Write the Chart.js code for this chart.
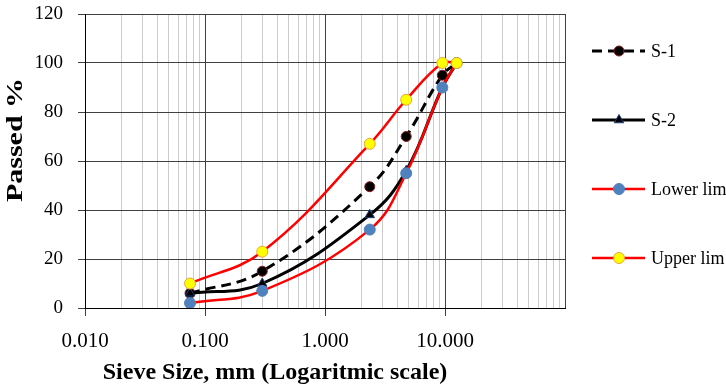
<!DOCTYPE html>
<html>
<head>
<meta charset="utf-8">
<script src="https://cdn.jsdelivr.net/npm/chart.js@4.4.1/dist/chart.umd.min.js"></script>
<style>
  html, body { margin: 0; padding: 0; background: #fff; }
</style>
</head>
<body>
<canvas id="sieve-chart" width="726" height="388"></canvas>
<script>
// sieve sizes (mm) and % passing
const sieveSizes = [0.075, 0.3, 2.36, 4.75, 9.5, 12.5];
const s1 = [6, 15, 49.5, 70, 95, 100];
const s2 = [6, 10, 38, 56, 90, 100];
const lowerLim = [2, 7, 32, 55, 90, 100];
const upperLim = [10, 23, 67, 85, 100, 100];
const seriesNames = ['S-1', 'S-2', 'Lower lim', 'Upper lim'];
const xTickLabels = ['0.010', '0.100', '1.000', '10.000'];
const yTickStep = 20;

const serif = "'Liberation Serif', 'Times New Roman', serif";

function points(values) {
  return sieveSizes.map((x, i) => ({ x: x, y: values[i] }));
}

function isDecade(v) {
  const l = Math.log10(v);
  return Math.abs(l - Math.round(l)) < 1e-9;
}

// titles + legend drawn by hand, Excel style
const extras = {
  id: 'extras',
  afterDraw(chart) {
    const ctx = chart.ctx;
    ctx.save();
    ctx.fillStyle = '#000';
    ctx.textAlign = 'center';
    ctx.textBaseline = 'middle';
    ctx.font = 'bold 24px ' + serif;
    ctx.fillText('Sieve Size, mm (Logaritmic scale)', 275, 373);

    ctx.save();
    ctx.translate(16, 140);
    ctx.rotate(-Math.PI / 2);
    ctx.scale(1.25, 1);
    ctx.fillText('Passed %', 0, 0);
    ctx.restore();

    ctx.font = '18px ' + serif;
    ctx.textAlign = 'left';
    chart.data.datasets.forEach((ds, i) => {
      const y = 51 + i * 69;
      ctx.save();
      ctx.strokeStyle = ds.borderColor;
      ctx.lineWidth = ds.borderWidth;
      ctx.setLineDash(ds.borderDash || []);
      ctx.beginPath();
      ctx.moveTo(592, y);
      ctx.lineTo(645, y);
      ctx.stroke();
      ctx.setLineDash([]);
      ctx.fillStyle = ds.pointBackgroundColor;
      ctx.strokeStyle = ds.pointBorderColor;
      ctx.lineWidth = ds.pointBorderWidth;
      Chart.helpers.drawPoint(ctx, {
        pointStyle: ds.pointStyle,
        radius: ds.pointRadius,
        borderWidth: ds.pointBorderWidth
      }, 619, y);
      ctx.restore();
      ctx.fillStyle = '#000';
      ctx.fillText(ds.label, 651, y + 1);
    });
    ctx.restore();
  }
};

const ctx = document.getElementById('sieve-chart').getContext('2d');

new Chart(ctx, {
  type: 'scatter',
  data: {
    datasets: [
      {
        label: seriesNames[0],
        data: points(s1),
        showLine: true,
        tension: 0.4,
        borderColor: '#000000',
        borderWidth: 3,
        borderDash: [10, 6],
        pointStyle: 'circle',
        pointRadius: 5,
        pointBackgroundColor: '#000000',
        pointBorderColor: '#8b1a1a',
        pointBorderWidth: 1,
        order: 4
      },
      {
        label: seriesNames[1],
        data: points(s2),
        showLine: true,
        tension: 0.4,
        borderColor: '#000000',
        borderWidth: 3,
        pointStyle: 'triangle',
        pointRadius: 5.5,
        pointBackgroundColor: '#000000',
        pointBorderColor: '#1f3d7a',
        pointBorderWidth: 1,
        order: 3
      },
      {
        label: seriesNames[2],
        data: points(lowerLim),
        showLine: true,
        tension: 0.4,
        borderColor: '#ff0000',
        borderWidth: 2.5,
        pointStyle: 'circle',
        pointRadius: 5.5,
        pointBackgroundColor: '#4f81bd',
        pointBorderColor: '#4f81bd',
        pointBorderWidth: 1,
        order: 2
      },
      {
        label: seriesNames[3],
        data: points(upperLim),
        showLine: true,
        tension: 0.4,
        borderColor: '#ff0000',
        borderWidth: 2.5,
        pointStyle: 'circle',
        pointRadius: 5.5,
        pointBackgroundColor: '#ffff00',
        pointBorderColor: '#e8a33a',
        pointBorderWidth: 1,
        order: 1
      }
    ]
  },
  options: {
    responsive: false,
    animation: false,
    layout: { autoPadding: false, padding: { left: 0, top: 14, right: 161, bottom: 0 } },
    plugins: {
      legend: { display: false },
      tooltip: { enabled: false }
    },
    scales: {
      x: {
        type: 'logarithmic',
        min: 0.01,
        max: 100,
        afterBuildTicks(scale) {
          const ticks = [];
          for (let e = -2; e <= 1; e++) {
            for (let m = 1; m <= 9; m++) {
              ticks.push({ value: +(m * Math.pow(10, e)).toPrecision(3) });
            }
          }
          ticks.push({ value: 100 });
          scale.ticks = ticks;
        },
        afterFit(scale) {
          scale.height = 80;
          scale.paddingLeft = 0;
          scale.paddingRight = 0;
        },
        border: { color: '#000000', width: 1 },
        grid: {
          color: (c) => isDecade(c.tick.value) ? '#404040' : '#cccccc',
          lineWidth: 1,
          tickLength: 8,
          tickColor: (c) => (isDecade(c.tick.value) && c.tick.value < 100) ? '#404040' : 'rgba(0,0,0,0)'
        },
        ticks: {
          autoSkip: false,
          maxRotation: 0,
          padding: 13,
          color: '#000',
          font: { family: serif, size: 21 },
          callback(value) {
            if (!isDecade(value)) return '';
            const k = Math.round(Math.log10(value)) + 2;
            return xTickLabels[k] || '';
          }
        }
      },
      y: {
        min: 0,
        max: 120,
        afterFit(scale) {
          scale.width = 85;
          scale.paddingTop = 0;
          scale.paddingBottom = 0;
        },
        border: { color: '#000000', width: 1 },
        grid: {
          color: '#404040',
          lineWidth: 1,
          tickLength: 7,
          tickColor: '#404040'
        },
        ticks: {
          stepSize: yTickStep,
          padding: 15,
          color: '#000',
          font: { family: serif, size: 19 }
        }
      }
    }
  },
  plugins: [extras]
});
</script>
</body>
</html>
